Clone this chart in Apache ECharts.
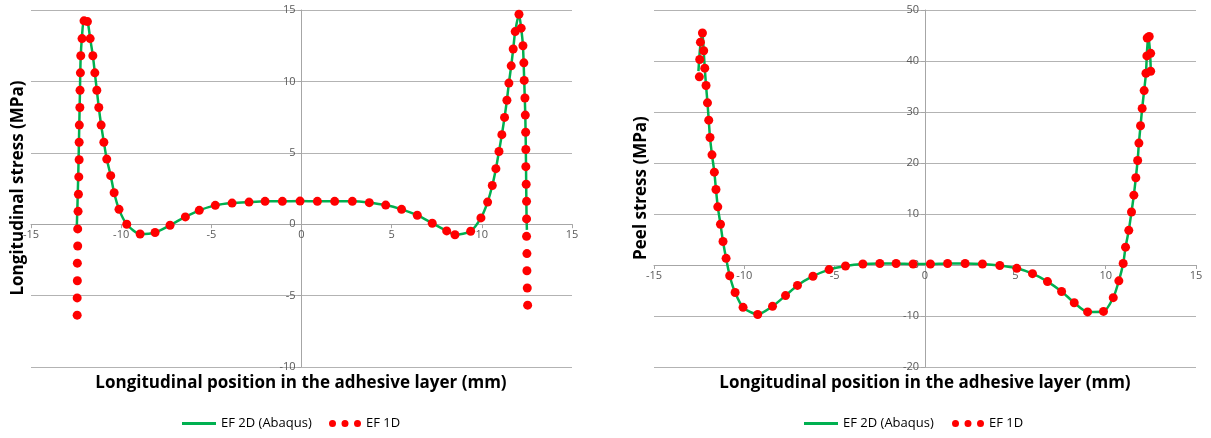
<!DOCTYPE html>
<html lang="en">
<head>
  <meta charset="UTF-8" />
  <title>Longitudinal and peel stress</title>
  <script src="https://cdn.jsdelivr.net/npm/echarts@6/dist/echarts.min.js"></script>
  <style>
    body { margin: 0; background: #fff; }
    #main { width: 1211px; height: 438px; }
  </style>
</head>
<body>
  <div id="main"></div>
  <script>
    // longitudinal stress, 1D model (red dots)
    const longit1D = [
      [-12.44, -6.37], [-12.44, -5.16], [-12.43, -3.96], [-12.43, -2.73], [-12.41, -1.53],
      [-12.41, -0.33], [-12.39, 0.90], [-12.37, 2.10], [-12.35, 3.31], [-12.33, 4.51],
      [-12.33, 5.74], [-12.32, 6.94], [-12.29, 8.17], [-12.28, 9.38], [-12.26, 10.6],
      [-12.24, 11.8], [-12.17, 13.0], [-12.06, 14.24], [-11.87, 14.19], [-11.72, 13.0],
      [-11.57, 11.8], [-11.46, 10.6], [-11.35, 9.38], [-11.24, 8.17], [-11.11, 6.94],
      [-10.96, 5.74], [-10.80, 4.56], [-10.58, 3.40], [-10.39, 2.20], [-10.12, 1.04],
      [-9.69, 0.0], [-8.95, -0.69], [-8.12, -0.58], [-7.29, -0.07], [-6.44, 0.51],
      [-5.67, 0.97], [-4.78, 1.32], [-3.85, 1.48], [-2.91, 1.55], [-2.02, 1.60],
      [-1.06, 1.60], [-0.08, 1.62], [0.88, 1.60], [1.84, 1.60], [2.82, 1.60],
      [3.76, 1.51], [4.67, 1.34], [5.55, 1.04], [6.42, 0.63], [7.25, 0.07],
      [8.05, -0.47], [8.51, -0.74], [9.38, -0.49], [9.95, 0.44], [10.32, 1.55],
      [10.58, 2.71], [10.78, 3.89], [10.95, 5.09], [11.11, 6.27], [11.26, 7.48],
      [11.39, 8.68], [11.50, 9.88], [11.63, 11.09], [11.74, 12.27], [11.85, 13.49],
      [12.06, 14.70], [12.18, 13.73], [12.28, 12.5], [12.33, 11.3], [12.35, 10.07],
      [12.39, 8.84], [12.41, 7.64], [12.43, 6.44], [12.44, 5.23], [12.44, 4.03],
      [12.46, 2.80], [12.48, 1.60], [12.48, 0.37], [12.48, -0.85], [12.50, -2.06],
      [12.50, -3.26], [12.52, -4.47], [12.54, -5.67]
    ];

    // longitudinal stress, 2D Abaqus model (green line)
    const longit2D = [
      [-12.47, -0.58], [-12.42, 1.5], [-12.37, 4.0], [-12.33, 6.5], [-12.29, 9.0],
      [-12.25, 11.5], [-12.17, 13.2], [-12.06, 14.3], [-11.87, 14.2], [-11.72, 13.0],
      [-11.57, 11.8], [-11.46, 10.6], [-11.35, 9.38], [-11.24, 8.17], [-11.11, 6.94],
      [-10.96, 5.74], [-10.80, 4.56], [-10.58, 3.40], [-10.39, 2.20], [-10.12, 1.04],
      [-9.69, 0.0], [-8.95, -0.69], [-8.12, -0.58], [-7.29, -0.07], [-6.44, 0.51],
      [-5.67, 0.97], [-4.78, 1.32], [-3.85, 1.48], [-2.91, 1.55], [-2.02, 1.60],
      [-1.06, 1.60], [-0.08, 1.62], [0.88, 1.60], [1.84, 1.60], [2.82, 1.60],
      [3.76, 1.51], [4.67, 1.34], [5.55, 1.04], [6.42, 0.63], [7.25, 0.07],
      [8.05, -0.47], [8.51, -0.74], [9.38, -0.49], [9.95, 0.44], [10.32, 1.55],
      [10.58, 2.71], [10.78, 3.89], [10.95, 5.09], [11.11, 6.27], [11.26, 7.48],
      [11.39, 8.68], [11.50, 9.88], [11.63, 11.09], [11.74, 12.27], [11.85, 13.49],
      [12.06, 14.70], [12.18, 13.73], [12.28, 12.5], [12.35, 10.07], [12.41, 7.64],
      [12.44, 5.23], [12.46, 2.80], [12.48, 0.5], [12.50, -0.4]
    ];

    // peel stress, 1D model (red dots)
    const peel1D = [
      [-12.49, 36.9], [-12.47, 40.3], [-12.43, 43.7], [-12.32, 45.5], [-12.25, 42.0],
      [-12.19, 38.6], [-12.12, 35.2], [-12.04, 31.8], [-11.97, 28.4], [-11.90, 25.0],
      [-11.79, 21.6], [-11.66, 18.2], [-11.57, 14.8], [-11.47, 11.4], [-11.32, 8.0],
      [-11.18, 4.6], [-11.01, 1.3], [-10.81, -2.1], [-10.51, -5.4], [-10.07, -8.3],
      [-9.26, -9.7], [-8.44, -8.1], [-7.72, -6.0], [-7.06, -4.0], [-6.20, -2.2],
      [-5.31, -0.9], [-4.40, -0.2], [-3.44, 0.2], [-2.50, 0.3], [-1.60, 0.3],
      [-0.66, 0.2], [0.30, 0.2], [1.25, 0.3], [2.22, 0.3], [3.18, 0.2],
      [4.14, -0.1], [5.08, -0.65], [5.95, -1.7], [6.78, -3.25], [7.56, -5.2],
      [8.26, -7.4], [9.00, -9.2], [9.88, -9.1], [10.42, -6.4], [10.73, -3.1],
      [10.97, 0.3], [11.10, 3.5], [11.28, 6.8], [11.43, 10.4], [11.56, 13.7],
      [11.67, 17.1], [11.77, 20.5], [11.84, 23.9], [11.93, 27.3], [12.02, 30.7],
      [12.13, 34.2], [12.23, 37.6], [12.28, 41.0], [12.30, 44.5], [12.41, 44.8],
      [12.49, 41.5], [12.49, 38.0]
    ];

    // peel stress, 2D Abaqus model (green line)
    const peel2D = [
      [-12.54, 38.0], [-12.45, 42.5], [-12.32, 45.6], [-12.25, 42.0], [-12.19, 38.6],
      [-12.12, 35.2], [-12.04, 31.8], [-11.97, 28.4], [-11.90, 25.0], [-11.79, 21.6],
      [-11.66, 18.2], [-11.57, 14.8], [-11.47, 11.4], [-11.32, 8.0], [-11.18, 4.6],
      [-11.01, 1.3], [-10.81, -2.1], [-10.51, -5.4], [-10.07, -8.3], [-9.26, -9.7],
      [-8.44, -8.1], [-7.72, -6.0], [-7.06, -4.0], [-6.20, -2.2], [-5.31, -0.9],
      [-4.40, -0.2], [-3.44, 0.2], [-2.50, 0.3], [-1.60, 0.3], [-0.66, 0.2],
      [0.30, 0.2], [1.25, 0.3], [2.22, 0.3], [3.18, 0.2], [4.14, -0.1],
      [5.08, -0.65], [5.95, -1.7], [6.78, -3.25], [7.56, -5.2], [8.26, -7.4],
      [9.00, -9.2], [9.88, -9.1], [10.42, -6.4], [10.73, -3.1], [10.97, 0.3],
      [11.10, 3.5], [11.28, 6.8], [11.43, 10.4], [11.56, 13.7], [11.67, 17.1],
      [11.77, 20.5], [11.84, 23.9], [11.93, 27.3], [12.02, 30.7], [12.13, 34.2],
      [12.23, 37.6], [12.29, 42.0], [12.36, 45.0], [12.45, 42.0], [12.50, 38.0]
    ];

    const xTitle = "Longitudinal position in the adhesive layer (mm)";
    const yTitles = ["Longitudinal stress (MPa)", "Peel stress (MPa)"];
    const seriesNames = ["EF 2D (Abaqus)", "EF 1D"];
    const xRange = [-15, 15, 5];
    const yRanges = [[-10, 15, 5], [-20, 50, 10]];

    const font = "'Open Sans', sans-serif";
    const green = "#00b050";
    const red = "#ff0000";
    const threeDots = "path://M0,3.5a3.5,3.5 0 1,0 7,0a3.5,3.5 0 1,0 -7,0Z" +
      "M12.5,3.5a3.5,3.5 0 1,0 7,0a3.5,3.5 0 1,0 -7,0Z" +
      "M25,3.5a3.5,3.5 0 1,0 7,0a3.5,3.5 0 1,0 -7,0Z";

    const W = 1211, H = 438;
    const grids = [
      { left: 31, right: 639, top: 10, bottom: 71 },
      { left: 654, right: 15, top: 10, bottom: 71 }
    ];

    // onZero only moves the line in v6, so shift whole axes to the origin with offset
    function zeroShift(size, range) {
      return size * (0 - range[0]) / (range[1] - range[0]);
    }

    function xAxisCfg(i) {
      const h = H - grids[i].top - grids[i].bottom;
      return {
        type: "value", gridIndex: i, position: "bottom",
        min: xRange[0], max: xRange[1], interval: xRange[2],
        offset: -zeroShift(h, yRanges[i]),
        axisLine: { onZero: false, lineStyle: { color: "#a6a6a6" } },
        axisTick: { show: true, length: 4, lineStyle: { color: "#a6a6a6" } },
        axisLabel: { color: "#595959", fontSize: 11, fontFamily: font, margin: 5 },
        splitLine: { show: false }
      };
    }

    function yAxisCfg(i) {
      const w = W - grids[i].left - grids[i].right;
      const r = yRanges[i];
      return {
        type: "value", gridIndex: i, position: "left",
        min: r[0], max: r[1], interval: r[2],
        offset: -zeroShift(w, xRange),
        axisLine: { show: true, onZero: false, lineStyle: { color: "#a6a6a6" } },
        axisTick: { show: true, length: 4, lineStyle: { color: "#a6a6a6" } },
        axisLabel: { color: "#595959", fontSize: 11, fontFamily: font, margin: 6 },
        splitLine: { show: true, lineStyle: { color: "#b3b3b3", width: 1 } }
      };
    }

    function lineSeries(idx, data) {
      return {
        name: seriesNames[0], type: "line", xAxisIndex: idx, yAxisIndex: idx,
        data: data, smooth: 0.25, symbol: "none",
        lineStyle: { color: green, width: 2.5 }, itemStyle: { color: green }, z: 2
      };
    }

    function dotSeries(idx, data) {
      return {
        name: seriesNames[1], type: "scatter", xAxisIndex: idx, yAxisIndex: idx,
        data: data, symbolSize: 9, itemStyle: { color: red, opacity: 1 }, z: 3
      };
    }

    function legendCfg(left, name, icon, w, h) {
      return {
        left: left, top: 417, padding: 0, orient: "horizontal",
        data: [name], icon: icon, itemWidth: w, itemHeight: h,
        selectedMode: false,
        textStyle: { color: "#000", fontSize: 13, fontFamily: font }
      };
    }

    function textEl(x, y, text, rotate) {
      return {
        type: "text", x: x, y: y, rotation: rotate ? Math.PI / 2 : 0,
        style: {
          text: text, fill: "#000", font: "bold 17px " + font,
          textAlign: "center", textVerticalAlign: "middle"
        }
      };
    }

    const chart = echarts.init(document.getElementById("main"));
    chart.setOption({
      animation: false,
      grid: grids,
      xAxis: [xAxisCfg(0), xAxisCfg(1)],
      yAxis: [yAxisCfg(0), yAxisCfg(1)],
      legend: [
        legendCfg(182, seriesNames[0], "rect", 34, 3),
        legendCfg(329, seriesNames[1], threeDots, 32, 7),
        legendCfg(804, seriesNames[0], "rect", 34, 3),
        legendCfg(952, seriesNames[1], threeDots, 32, 7)
      ],
      graphic: [
        textEl(301, 383, xTitle, false),
        textEl(925, 383, xTitle, false),
        textEl(18, 188, yTitles[0], true),
        textEl(641, 188, yTitles[1], true)
      ],
      series: [
        lineSeries(0, longit2D),
        dotSeries(0, longit1D),
        lineSeries(1, peel2D),
        dotSeries(1, peel1D)
      ]
    });
  </script>
</body>
</html>
